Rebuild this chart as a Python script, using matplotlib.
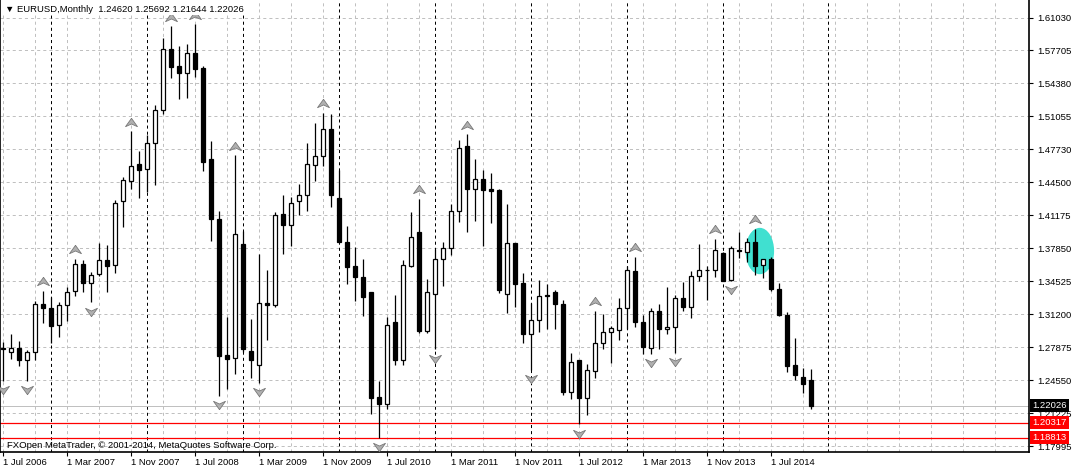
import matplotlib
matplotlib.use('Agg')
import matplotlib.pyplot as plt
from matplotlib.path import Path
from matplotlib.patches import Ellipse
import numpy as np

plt.rcParams['font.family'] = ['Liberation Sans', 'DejaVu Sans']
plt.rcParams['lines.scale_dashes'] = False

# EURUSD monthly, Jul 2006 .. Dec 2014
opens = [1.2780, 1.2743, 1.2786, 1.2659, 1.2743, 1.3223, 1.3180, 1.3012, 1.3213, 1.3350,
         1.3626, 1.3431, 1.3526, 1.3670, 1.3616, 1.4257, 1.4459, 1.4627, 1.4580, 1.4842,
         1.5178, 1.5783, 1.5614, 1.5541, 1.5742, 1.5591, 1.4684, 1.4080, 1.2710, 1.2685,
         1.3828, 1.2753, 1.2609, 1.3234, 1.3213, 1.4130, 1.4019, 1.4254, 1.4322, 1.4624,
         1.4708, 1.4987, 1.4291, 1.3851, 1.3609, 1.3498, 1.3347, 1.2289, 1.2216, 1.3045,
         1.2659, 1.3609, 1.3945, 1.2954, 1.3324, 1.3677, 1.3787, 1.4156, 1.4808, 1.4375,
         1.4483, 1.4375, 1.4365, 1.3324, 1.3838, 1.3435, 1.2921, 1.3062, 1.3314, 1.3347,
         1.3223, 1.2343, 1.2662, 1.2276, 1.2551, 1.2830, 1.2944, 1.2961, 1.3180, 1.3559,
         1.3045, 1.2786, 1.3156, 1.2971, 1.2988, 1.3284, 1.3189, 1.3502, 1.3562, 1.3566,
         1.3737, 1.3465, 1.3770, 1.3750, 1.3851, 1.3616, 1.3677, 1.3374, 1.3116, 1.2612,
         1.2491, 1.24620]
highs = [1.2840, 1.2921, 1.2854, 1.2760, 1.3257, 1.3357, 1.3297, 1.3247, 1.3398, 1.3677,
         1.3667, 1.3542, 1.3838, 1.3821, 1.4264, 1.4499, 1.4962, 1.4761, 1.4919, 1.5228,
         1.5893, 1.6017, 1.5816, 1.5836, 1.6037, 1.5620, 1.4859, 1.4163, 1.3088, 1.4718,
         1.3962, 1.3072, 1.3727, 1.3569, 1.4153, 1.4322, 1.4298, 1.4432, 1.4842, 1.5047,
         1.5144, 1.5131, 1.4567, 1.4012, 1.3794, 1.3677, 1.3347, 1.2451, 1.3088, 1.3317,
         1.3667, 1.4146, 1.4281, 1.3475, 1.3781, 1.3851, 1.4224, 1.4869, 1.4929, 1.4684,
         1.4567, 1.4539, 1.4375, 1.4231, 1.3838, 1.3536, 1.3233, 1.3465, 1.3425, 1.3367,
         1.3264, 1.2730, 1.2662, 1.2619, 1.3156, 1.3123, 1.3005, 1.3284, 1.3609, 1.3700,
         1.3116, 1.3183, 1.3223, 1.3398, 1.3317, 1.3441, 1.3559, 1.3828, 1.3609, 1.3878,
         1.3744, 1.3811, 1.3945, 1.3888, 1.3979, 1.3677, 1.3693, 1.3431, 1.3146, 1.2877,
         1.2585, 1.25692]
lows = [1.2450, 1.2669, 1.2602, 1.2451, 1.2659, 1.3028, 1.2836, 1.2887, 1.3048, 1.3300,
        1.3347, 1.3239, 1.3510, 1.3340, 1.3532, 1.3995, 1.4382, 1.4291, 1.4348, 1.4422,
        1.5138, 1.5496, 1.5279, 1.5289, 1.5507, 1.4560, 1.3861, 1.2299, 1.2367, 1.2524,
        1.2740, 1.2484, 1.2434, 1.2861, 1.3189, 1.3727, 1.3811, 1.4123, 1.4156, 1.4459,
        1.4607, 1.4197, 1.3844, 1.3425, 1.3250, 1.3098, 1.2121, 1.1881, 1.2166, 1.2612,
        1.2612, 1.3599, 1.2937, 1.2937, 1.2770, 1.3408, 1.3720, 1.4046, 1.3945, 1.4056,
        1.3811, 1.4036, 1.3330, 1.3129, 1.3189, 1.2836, 1.2560, 1.2947, 1.2972, 1.2972,
        1.2310, 1.2266, 1.2014, 1.2108, 1.2484, 1.2770, 1.2635, 1.2861, 1.2977, 1.2995,
        1.2726, 1.2726, 1.2776, 1.2927, 1.2736, 1.3149, 1.3078, 1.3451, 1.3267, 1.3498,
        1.3451, 1.3458, 1.3687, 1.3643, 1.3518, 1.3481, 1.3350, 1.3105, 1.2544, 1.2458,
        1.2327, 1.21644]
closes = [1.2770, 1.2786, 1.2659, 1.2743, 1.3223, 1.3180, 1.3005, 1.3213, 1.3340, 1.3626,
          1.3431, 1.3516, 1.3667, 1.3602, 1.4241, 1.4473, 1.4614, 1.4566, 1.4846, 1.5171,
          1.5783, 1.5607, 1.5547, 1.5742, 1.5587, 1.4650, 1.4080, 1.2702, 1.2675, 1.3929,
          1.2776, 1.2659, 1.3234, 1.3216, 1.4120, 1.4019, 1.4241, 1.4322, 1.4634, 1.4708,
          1.4987, 1.4315, 1.3844, 1.3592, 1.3491, 1.3290, 1.2282, 1.2216, 1.3012, 1.2659,
          1.3616, 1.3895, 1.2954, 1.3340, 1.3677, 1.3787, 1.4163, 1.4795, 1.4375, 1.4483,
          1.4372, 1.4362, 1.3368, 1.3838, 1.3425, 1.2921, 1.3062, 1.3307, 1.3304, 1.3223,
          1.2343, 1.2642, 1.2282, 1.2559, 1.2830, 1.2944, 1.2981, 1.3183, 1.3566, 1.3038,
          1.2796, 1.3156, 1.2971, 1.2995, 1.3284, 1.3189, 1.3509, 1.3566, 1.3566, 1.3767,
          1.3458, 1.3787, 1.3760, 1.3851, 1.3609, 1.3677, 1.3374, 1.3116, 1.2602, 1.2511,
          1.2417, 1.22026]

up_fractals = [5, 9, 16, 21, 24, 29, 40, 52, 58, 74, 79, 89, 94]
down_fractals = [0, 3, 11, 27, 32, 47, 54, 66, 72, 81, 84, 91]
year_separators = [6, 18, 30, 42, 54, 66, 78, 90, 103.1]

date_ticks = [0, 8, 16, 24, 32, 40, 48, 56, 64, 72, 80, 88, 96]
date_labels = ['1 Jul 2006', '1 Mar 2007', '1 Nov 2007', '1 Jul 2008', '1 Mar 2009',
               '1 Nov 2009', '1 Jul 2010', '1 Mar 2011', '1 Nov 2011', '1 Jul 2012',
               '1 Mar 2013', '1 Nov 2013', '1 Jul 2014']
price_ticks = [1.6103, 1.5772, 1.5440, 1.5109, 1.4777, 1.4446, 1.4115, 1.3783, 1.3452,
               1.3120, 1.2789, 1.2458, 1.2126, 1.1795]
price_labels = ['1.61030', '1.57705', '1.54380', '1.51055', '1.47730', '1.44500', '1.41175',
                '1.37850', '1.34525', '1.31200', '1.27875', '1.24550', '1.21225', '1.17995']

last_price = 1.22026
red_levels = [1.20317, 1.18813]

o = np.array(opens)
h = np.array(highs)
l = np.array(lows)
c = np.array(closes)
x = np.arange(len(o))

fig = plt.figure(figsize=(10.72, 4.68), dpi=100)
ax = fig.add_axes([0, 16 / 468, 1029 / 1072, 452 / 468])
ax.set_xlim(-0.375, 128.25)
ax.set_ylim(1.17361, 1.62789)

# grid
for gx in np.arange(0, 128, 4):
    ax.axvline(gx, color='#c0c0c0', lw=0.72, ls=(0, (2.2, 2.2)), zorder=0)
for gy in price_ticks:
    ax.axhline(gy, color='#c0c0c0', lw=0.72, ls=(0, (2.2, 2.2)), zorder=0)
for sx in year_separators:
    ax.axvline(sx, color='black', lw=0.72, ls=(0, (2.2, 2.2)), zorder=0.5)

ax.axhline(last_price, color='#c0c0c0', lw=0.72, zorder=0.6)
for lvl in red_levels:
    ax.axhline(lvl, color='red', lw=0.9, zorder=0.6)

ax.add_patch(Ellipse((94.6, 1.3756), 3.4, 0.0452, color='#40e0d0', zorder=1))

# candles
ax.vlines(x, l, h, color='black', lw=0.9, zorder=2)
up = c >= o
body = np.abs(c - o)
body = np.where(body < 0.0003, 0.0003, body)
ax.bar(x[up], body[up], 0.5, bottom=np.minimum(o, c)[up], color='white',
       edgecolor='black', linewidth=0.9, zorder=3)
ax.bar(x[~up], body[~up], 0.5, bottom=np.minimum(o, c)[~up], color='black',
       edgecolor='black', linewidth=0.9, zorder=3)

# fractals
up_marker = Path([(0, 0.7), (1, -0.7), (0, -0.25), (-1, -0.7), (0, 0.7)])
dn_marker = Path([(0, -0.7), (1, 0.7), (0, 0.25), (-1, 0.7), (0, -0.7)])
ax.plot(up_fractals, h[up_fractals] + 0.0095, ls='none', marker=up_marker, ms=8.6,
        mfc='#b0b0b0', mec='#787878', mew=0.6, zorder=4)
ax.plot(down_fractals, l[down_fractals] - 0.0095, ls='none', marker=dn_marker, ms=8.6,
        mfc='#b0b0b0', mec='#787878', mew=0.6, zorder=4)

# axes look
for s in ['top']:
    ax.spines[s].set_visible(False)
for s in ['left', 'right', 'bottom']:
    ax.spines[s].set_linewidth(1.2)
ax.yaxis.tick_right()
ax.set_yticks(price_ticks)
ax.set_yticklabels(price_labels)
ax.set_xticks(date_ticks)
ax.set_xticklabels(date_labels, ha='left')
ax.tick_params(axis='y', length=3, width=0.8, pad=3, labelsize=6.8)
ax.tick_params(axis='x', length=3, width=0.8, pad=1.5, labelsize=6.8)

# price boxes on the right scale
box_specs = [(last_price, 'black'), (red_levels[0], 'red'), (red_levels[1], 'red')]
for val, col in box_specs:
    ax.text(1.003, val, '%.5f' % val, transform=ax.get_yaxis_transform(), color='white',
            fontsize=6.8, va='center', ha='left', zorder=10, clip_on=False,
            bbox=dict(boxstyle='square,pad=0.25', fc=col, ec='none'))

ax.text(5 / 1029, 1 - 9 / 452, '▼ EURUSD,Monthly  1.24620 1.25692 1.21644 1.22026',
        transform=ax.transAxes, fontsize=6.8, va='center', ha='left', zorder=10,
        bbox=dict(boxstyle='square,pad=0.2', fc='white', ec='none'))
ax.text(7 / 1029, 7 / 452, 'FXOpen MetaTrader, © 2001-2014, MetaQuotes Software Corp.',
        transform=ax.transAxes, fontsize=6.8, va='center', ha='left', zorder=10)

fig.savefig('out.png', dpi=100, facecolor='white')
